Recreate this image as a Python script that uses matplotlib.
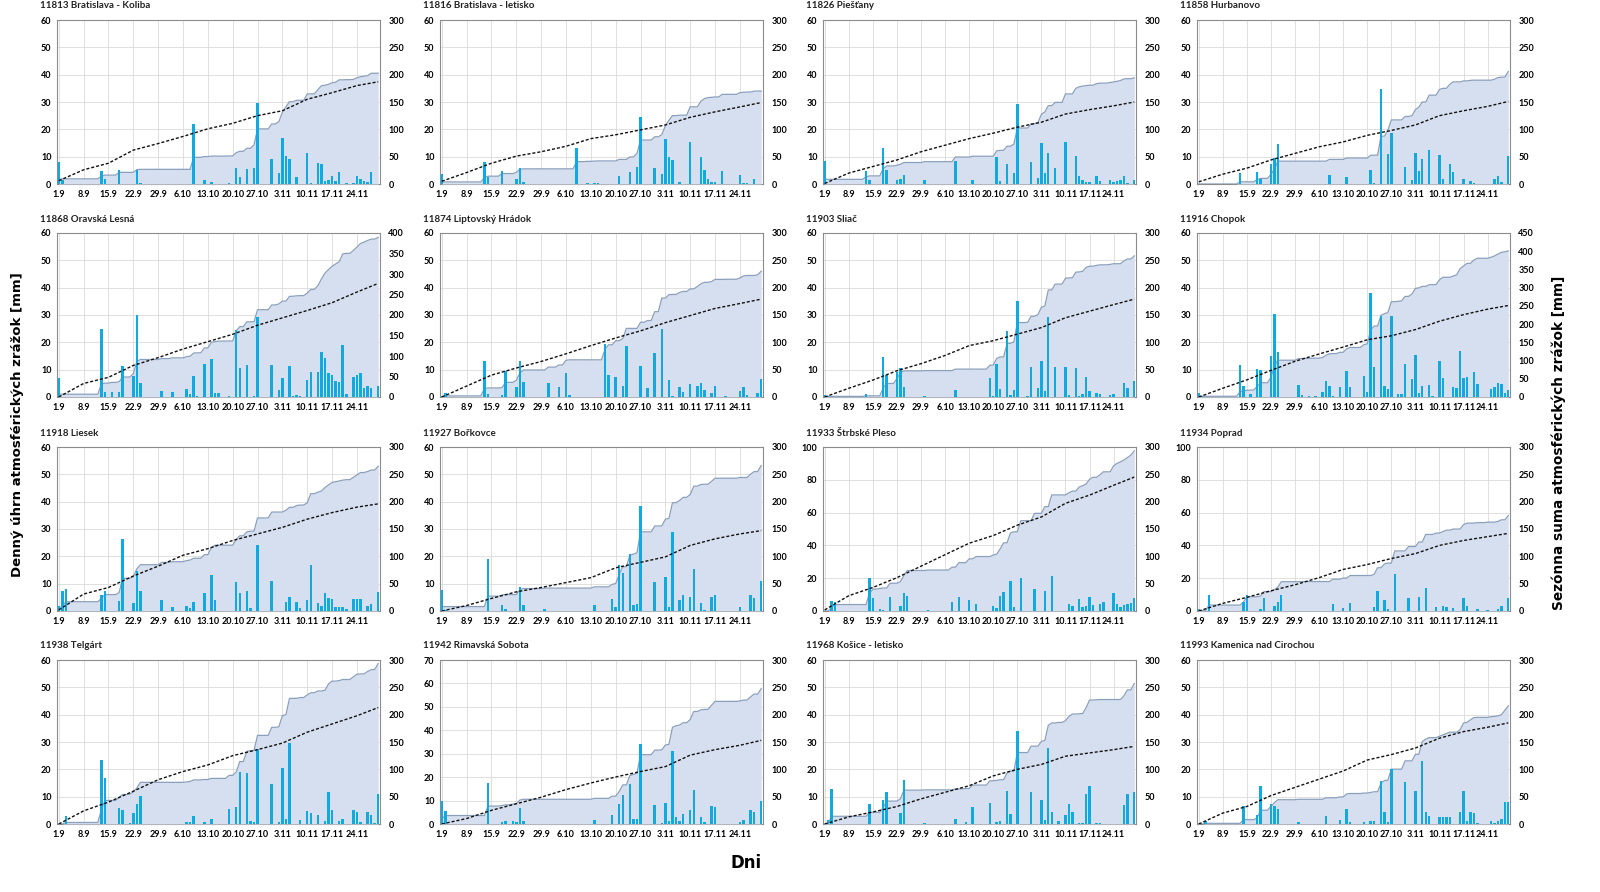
import matplotlib
matplotlib.use('Agg')
import matplotlib.pyplot as plt
import numpy as np

plt.rcParams['font.family'] = ['Lato', 'DejaVu Sans']

# x axis: 1.9. - 30.11., day index 0..90
n_days = 91
xtick_days = list(range(0, 85, 7))
xtick_labels = ['1.9', '8.9', '15.9', '22.9', '29.9', '6.10', '13.10', '20.10',
                '27.10', '3.11', '10.11', '17.11', '24.11']
norm_days = [0, 7, 14, 21, 28, 35, 42, 49, 56, 63, 70, 77, 84, 90]

titles = ['11813 Bratislava - Koliba', '11816 Bratislava - letisko', '11826 Piešťany', '11858 Hurbanovo',
          '11868 Oravská Lesná', '11874 Liptovský Hrádok', '11903 Sliač', '11916 Chopok',
          '11918 Liesek', '11927 Bořkovce', '11933 Štrbské Pleso', '11934 Poprad',
          '11938 Telgárt', '11942 Rimavská Sobota', '11968 Košice - letisko', '11993 Kamenica nad Cirochou']

left_max = [60, 60, 60, 60, 60, 60, 60, 60, 60, 60, 100, 100, 60, 70, 60, 60]
left_step = [10, 10, 10, 10, 10, 10, 10, 10, 10, 10, 20, 20, 10, 10, 10, 10]
right_max = [300, 300, 300, 300, 400, 300, 300, 450, 300, 300, 300, 300, 300, 300, 300, 300]

# daily precipitation [mm], day index -> value
rain_11813 = {0: 8.0, 1: 1.5, 12: 4.8, 13: 2.0, 17: 5.0, 22: 5.0, 23: 0.5, 38: 22.0, 41: 1.4, 43: 0.8,
              48: 0.3, 50: 6.0, 51: 2.5, 53: 5.5, 55: 6.0, 56: 29.5, 60: 9.0, 62: 4.2, 63: 17.0, 64: 10.3,
              65: 9.3, 67: 2.5, 70: 11.5, 71: 0.3, 73: 7.7, 74: 7.2, 75: 1.0, 76: 1.5, 77: 2.9, 78: 1.0,
              79: 4.3, 81: 0.3, 83: 0.5, 84: 3.0, 85: 1.8, 86: 1.2, 87: 0.8, 88: 4.5}
rain_11816 = {0: 3.8, 12: 8.0, 13: 2.5, 17: 4.8, 21: 2.0, 22: 5.8, 23: 0.8, 38: 13.2, 41: 0.5, 43: 0.5,
              44: 0.3, 50: 2.8, 53: 4.5, 55: 6.3, 56: 24.6, 60: 6.0, 62: 3.8, 63: 16.5, 64: 9.8, 65: 8.6,
              67: 0.8, 70: 15.3, 73: 10.0, 74: 5.0, 75: 1.8, 76: 0.6, 77: 0.6, 79: 4.8, 84: 3.2, 85: 0.5,
              86: 0.5, 88: 1.7}
rain_11826 = {0: 8.5, 12: 4.8, 13: 1.5, 17: 13.0, 18: 5.2, 21: 1.3, 22: 1.8, 23: 3.2, 29: 1.5, 38: 8.5,
              43: 1.5, 50: 9.8, 51: 1.0, 53: 7.5, 55: 4.0, 56: 29.3, 60: 8.0, 62: 2.2, 63: 15.0, 64: 4.2,
              65: 11.5, 67: 6.0, 70: 15.5, 73: 10.2, 74: 2.8, 75: 1.3, 76: 0.8, 77: 0.8, 79: 2.8, 80: 1.0,
              83: 1.3, 84: 0.8, 85: 1.2, 86: 1.5, 87: 2.8, 88: 0.5, 90: 1.5}
rain_11858 = {12: 4.0, 17: 4.3, 18: 2.0, 21: 7.3, 22: 9.5, 23: 14.7, 38: 3.2, 43: 2.5, 50: 5.0, 51: 0.3,
              53: 34.7, 55: 11.0, 56: 18.7, 60: 6.3, 62: 1.3, 63: 11.2, 64: 4.7, 65: 9.3, 67: 12.5,
              70: 10.5, 71: 2.0, 73: 7.3, 74: 4.5, 77: 1.8, 79: 1.0, 80: 0.3, 86: 1.8, 87: 3.0, 88: 0.8,
              90: 10.3}
rain_11868 = {0: 6.8, 12: 25.0, 13: 2.0, 15: 1.8, 17: 1.8, 18: 11.3, 21: 7.8, 22: 30.0, 23: 5.0, 29: 2.2,
              32: 1.8, 36: 2.8, 37: 1.2, 38: 7.7, 39: 0.5, 41: 12.0, 43: 14.0, 44: 1.3, 45: 1.3, 48: 0.3,
              50: 24.5, 51: 10.5, 53: 11.7, 55: 0.3, 56: 29.3, 60: 11.6, 62: 2.4, 63: 7.0, 65: 11.5,
              66: 0.5, 67: 0.8, 68: 0.5, 70: 6.2, 71: 9.0, 73: 9.0, 74: 16.5, 75: 14.2, 76: 8.7, 77: 8.0,
              78: 5.7, 79: 5.4, 80: 19.2, 81: 1.2, 83: 7.2, 84: 8.2, 85: 8.7, 86: 3.3, 87: 4.0, 88: 3.4,
              90: 4.2}
rain_11874 = {0: 0.5, 1: 1.5, 12: 13.3, 13: 1.2, 17: 0.8, 18: 9.5, 21: 3.8, 22: 13.3, 23: 5.5, 30: 5.3,
              33: 3.8, 35: 8.7, 36: 0.8, 46: 19.5, 47: 8.0, 49: 7.5, 51: 4.0, 52: 18.5, 56: 11.2, 58: 3.2,
              60: 16.2, 62: 24.8, 64: 6.2, 65: 0.5, 67: 3.7, 68: 1.8, 70: 4.7, 72: 4.2, 73: 5.1, 74: 2.7,
              76: 1.3, 77: 4.0, 80: 0.3, 84: 2.3, 85: 3.8, 86: 0.8, 89: 1.3, 90: 6.5}
rain_11903 = {0: 0.8, 1: 0.3, 12: 1.0, 17: 14.5, 18: 8.2, 21: 9.0, 22: 10.5, 23: 3.5, 29: 0.5, 38: 2.7,
              48: 7.0, 49: 0.5, 50: 12.0, 51: 2.8, 53: 24.2, 54: 0.8, 55: 2.5, 56: 35.3, 59: 0.5, 60: 11.0,
              62: 3.2, 63: 13.3, 64: 2.3, 65: 29.3, 67: 10.8, 70: 10.8, 71: 0.6, 73: 10.5, 74: 0.3,
              75: 1.2, 76: 7.2, 77: 2.1, 79: 1.5, 80: 1.1, 83: 0.8, 84: 1.2, 87: 5.2, 88: 3.4, 90: 5.7}
rain_11916 = {0: 1.5, 1: 0.5, 12: 11.8, 13: 4.2, 15: 1.0, 17: 10.3, 18: 9.8, 21: 15.0, 22: 30.5, 23: 16.3,
              29: 4.3, 30: 0.6, 32: 0.5, 34: 0.3, 36: 1.8, 37: 6.0, 38: 4.2, 39: 0.5, 41: 3.5, 43: 9.5,
              44: 3.8, 48: 7.7, 49: 2.0, 50: 38.0, 51: 11.0, 53: 29.8, 54: 4.2, 55: 3.0, 56: 29.8,
              58: 1.2, 59: 1.2, 60: 12.2, 62: 6.7, 63: 15.3, 64: 1.3, 65: 4.2, 67: 4.5, 68: 0.5,
              70: 13.2, 71: 6.8, 74: 3.5, 75: 3.3, 76: 17.0, 77: 7.0, 78: 7.4, 80: 9.2, 81: 4.8,
              85: 2.8, 86: 3.5, 87: 5.1, 88: 4.7, 89: 1.6, 90: 2.4}
rain_11918 = {0: 1.8, 1: 7.2, 2: 8.0, 12: 5.8, 13: 7.2, 17: 3.6, 18: 26.3, 21: 2.8, 22: 14.5, 23: 7.5,
              29: 4.2, 32: 1.3, 36: 2.0, 37: 1.0, 38: 3.3, 41: 6.5, 43: 13.2, 44: 4.2, 50: 10.7, 51: 6.5,
              53: 7.2, 54: 1.2, 56: 24.2, 60: 10.8, 64: 3.3, 65: 5.3, 67: 3.2, 68: 1.0, 70: 4.0, 71: 16.8,
              73: 2.8, 74: 2.0, 75: 6.5, 76: 4.8, 77: 4.5, 78: 1.3, 79: 1.3, 80: 1.6, 81: 0.8, 83: 4.3,
              84: 4.3, 85: 4.5, 87: 1.8, 88: 2.7, 90: 7.0}
rain_11927 = {0: 7.8, 1: 0.3, 13: 19.0, 17: 2.2, 18: 0.8, 22: 8.8, 23: 2.2, 29: 0.8, 43: 2.3, 48: 4.5,
              49: 1.5, 50: 16.8, 51: 14.0, 53: 20.8, 54: 2.2, 55: 2.5, 56: 38.3, 60: 10.7, 63: 12.5,
              64: 1.3, 65: 28.8, 67: 4.0, 68: 5.8, 70: 5.3, 71: 15.2, 73: 3.0, 74: 0.5, 76: 5.2, 77: 5.8,
              84: 1.3, 87: 6.0, 88: 4.8, 90: 11.0}
rain_11933 = {2: 6.4, 3: 5.4, 13: 20.0, 14: 8.2, 16: 1.2, 17: 0.8, 19: 8.8, 22: 2.8, 23: 11.2, 24: 9.3,
              30: 0.8, 37: 5.2, 39: 8.3, 42: 7.0, 44: 4.2, 49: 2.8, 50: 1.8, 51: 9.2, 52: 11.3, 54: 18.0,
              55: 2.2, 57: 20.3, 61: 13.5, 64: 12.3, 66: 21.3, 71: 4.0, 72: 3.0, 74: 7.5, 75: 2.5,
              76: 3.0, 77: 8.8, 78: 3.5, 80: 4.5, 81: 5.5, 84: 11.0, 85: 4.5, 86: 2.7, 87: 3.5, 88: 4.2,
              89: 4.7, 90: 7.8}
rain_11934 = {0: 1.0, 3: 9.8, 13: 5.5, 14: 9.8, 18: 1.5, 19: 8.0, 22: 3.0, 23: 5.2, 24: 9.8, 30: 0.3,
              39: 4.3, 42: 2.0, 44: 4.7, 51: 2.2, 52: 12.0, 54: 7.0, 55: 1.5, 57: 22.3, 61: 8.0, 64: 8.3,
              66: 13.8, 69: 2.5, 71: 2.8, 72: 2.6, 74: 2.0, 77: 8.0, 78: 2.8, 81: 1.0, 84: 0.8, 87: 1.3,
              88: 3.0, 90: 7.8}
rain_11938 = {2: 2.8, 12: 23.3, 13: 17.0, 17: 5.7, 18: 5.2, 20: 0.5, 21: 4.2, 22: 7.2, 23: 10.3, 36: 0.8,
              37: 0.8, 38: 2.8, 41: 0.8, 43: 2.0, 48: 5.6, 50: 6.2, 51: 19.0, 53: 18.8, 54: 1.0, 55: 0.6,
              56: 27.5, 60: 14.8, 62: 0.8, 63: 20.5, 64: 1.8, 65: 29.8, 68: 1.5, 70: 4.8, 71: 4.0,
              73: 3.2, 75: 1.2, 76: 11.8, 77: 5.0, 79: 1.0, 80: 2.0, 83: 5.0, 84: 4.5, 85: 0.8, 87: 4.3,
              88: 3.3, 89: 0.5, 90: 10.8}
rain_11942 = {0: 9.8, 1: 5.7, 13: 17.3, 17: 1.0, 18: 1.3, 20: 1.3, 21: 0.8, 22: 6.7, 23: 1.3, 43: 1.7,
              48: 4.0, 50: 8.5, 51: 12.2, 53: 17.0, 54: 2.0, 55: 2.0, 56: 34.2, 60: 8.3, 62: 0.5, 63: 8.8,
              64: 1.3, 65: 31.2, 66: 2.8, 67: 1.3, 68: 4.3, 70: 5.8, 71: 14.7, 73: 3.0, 74: 0.8, 76: 7.5,
              77: 7.2, 84: 0.8, 85: 1.5, 87: 6.0, 88: 5.0, 90: 10.0}
rain_11968 = {1: 1.3, 2: 12.8, 13: 7.3, 17: 8.8, 18: 11.7, 22: 4.0, 23: 16.0, 29: 0.5, 38: 1.8, 41: 0.8,
              43: 6.2, 48: 7.8, 50: 0.8, 51: 1.2, 53: 12.2, 54: 3.5, 56: 34.0, 60: 11.7, 63: 8.8, 64: 1.5,
              65: 27.8, 66: 4.3, 68: 1.0, 70: 3.3, 71: 7.5, 72: 4.5, 74: 0.5, 75: 0.5, 76: 10.8, 77: 13.8,
              79: 0.5, 80: 0.5, 87: 6.8, 88: 10.8, 90: 11.7}
rain_11993 = {2: 1.2, 13: 6.7, 17: 3.3, 18: 14.0, 21: 7.2, 22: 6.5, 23: 5.5, 29: 0.8, 37: 2.8, 41: 1.5,
              43: 5.5, 44: 0.8, 48: 0.8, 50: 1.2, 51: 1.2, 53: 15.8, 54: 4.5, 55: 0.8, 56: 20.2, 60: 15.2,
              63: 12.0, 65: 23.2, 66: 4.5, 67: 2.8, 70: 2.5, 71: 2.5, 72: 2.5, 73: 2.5, 76: 4.5, 77: 12.2,
              78: 1.2, 79: 4.5, 80: 4.2, 81: 0.5, 85: 1.2, 86: 0.5, 87: 1.2, 88: 1.8, 89: 8.2, 90: 8.0}

# normal seasonal sum [mm] at norm_days
norm_11813 = [6, 26, 38, 62, 74, 87, 101, 111, 125, 134, 155, 167, 180, 187]
norm_11816 = [5, 21, 38, 51, 59, 69, 83, 90, 99, 108, 122, 132, 141, 149]
norm_11826 = [1, 20, 32, 44, 59, 71, 83, 93, 104, 113, 128, 136, 143, 150]
norm_11858 = [4, 18, 29, 44, 56, 68, 77, 89, 98, 108, 125, 134, 142, 151]
norm_11868 = [0, 33, 48, 77, 96, 117, 135, 153, 175, 193, 211, 230, 256, 277]
norm_11874 = [0, 20, 40, 53, 65, 79, 94, 108, 121, 136, 149, 162, 171, 179]
norm_11903 = [0, 16, 31, 48, 61, 76, 94, 103, 115, 127, 145, 157, 169, 179]
norm_11916 = [0, 24, 47, 73, 98, 118, 137, 157, 168, 185, 208, 226, 241, 251]
norm_11918 = [2, 31, 43, 64, 82, 102, 114, 129, 141, 153, 168, 180, 190, 196]
norm_11927 = [0, 10, 23, 35, 43, 52, 61, 79, 89, 99, 120, 132, 141, 147]
norm_11933 = [2, 28, 43, 61, 82, 103, 124, 138, 157, 172, 197, 212, 230, 245]
norm_11934 = [0, 14, 25, 37, 48, 61, 76, 85, 96, 105, 120, 129, 136, 142]
norm_11938 = [0, 24, 40, 60, 81, 96, 108, 125, 136, 148, 168, 183, 198, 213]
norm_11942 = [0, 10, 25, 37, 49, 63, 75, 86, 96, 105, 126, 136, 144, 153]
norm_11968 = [0, 13, 22, 32, 46, 58, 70, 88, 100, 109, 124, 130, 136, 142]
norm_11993 = [0, 20, 32, 52, 67, 82, 97, 117, 127, 139, 157, 169, 177, 185]

rains = [rain_11813, rain_11816, rain_11826, rain_11858, rain_11868, rain_11874, rain_11903, rain_11916,
         rain_11918, rain_11927, rain_11933, rain_11934, rain_11938, rain_11942, rain_11968, rain_11993]
norms = [norm_11813, norm_11816, norm_11826, norm_11858, norm_11868, norm_11874, norm_11903, norm_11916,
         norm_11918, norm_11927, norm_11933, norm_11934, norm_11938, norm_11942, norm_11968, norm_11993]

# layout in pixels
W, H = 1600, 892
col_left = [57, 440, 823, 1197]
col_width = [323, 323, 313, 313]
row_top = [20, 233, 447, 660]
ax_h = 164

bar_color = '#12A9E0'
fill_color = '#D6DFEF'
edge_color = '#8A9FBC'
grid_color = '#DADADA'
spine_color = '#8C8C8C'
tick_fs = 6.5

fig = plt.figure(figsize=(W / 100, H / 100), dpi=100)

days = np.arange(n_days)

for i in range(16):
    r, c = divmod(i, 4)
    l, w, t = col_left[c], col_width[c], row_top[r]
    rect = [l / W, 1 - (t + ax_h) / H, w / W, ax_h / H]

    daily = np.zeros(n_days)
    for d, v in rains[i].items():
        daily[d] = v
    cum = np.cumsum(daily)

    # base axis: grid + left scale
    base = fig.add_axes(rect)
    base.set_xlim(-0.5, n_days - 0.5)
    base.set_ylim(0, left_max[i])
    base.set_yticks(np.arange(0, left_max[i] + 1, left_step[i]))
    base.set_xticks(xtick_days)
    base.set_xticklabels(xtick_labels)
    base.grid(True, color=grid_color, lw=0.6)
    base.tick_params(length=0, labelsize=tick_fs, pad=4)
    for lab in base.get_xticklabels() + base.get_yticklabels():
        lab.set_fontweight('bold')
    for s in base.spines.values():
        s.set_color(spine_color)
        s.set_linewidth(0.8)

    # seasonal sum (right scale)
    right = base.twinx()
    right.set_ylim(0, right_max[i])
    right.set_yticks(np.arange(0, right_max[i] + 1, 50))
    right.tick_params(length=0, labelsize=tick_fs, pad=6)
    for lab in right.get_yticklabels():
        lab.set_fontweight('bold')
    right.fill_between(days, cum, color=fill_color, lw=0)
    right.plot(days, cum, color=edge_color, lw=0.9)
    for s in right.spines.values():
        s.set_visible(False)

    # daily bars (left scale)
    bars = base.twinx()
    bars.set_ylim(0, left_max[i])
    bars.set_yticks([])
    bars.bar(days, daily, width=0.7, color=bar_color, lw=0)
    for s in bars.spines.values():
        s.set_visible(False)

    # normal (right scale)
    norm = base.twinx()
    norm.set_ylim(0, right_max[i])
    norm.set_yticks([])
    norm.plot(norm_days, norms[i], color='#111111', lw=1.0, ls=(0, (2.2, 1.4)))
    for s in norm.spines.values():
        s.set_visible(False)

    base.set_zorder(0)
    right.set_zorder(1)
    bars.set_zorder(2)
    norm.set_zorder(3)
    for a in (right, bars, norm):
        a.patch.set_visible(False)
    base.set_xlim(-0.5, n_days - 0.5)

    fig.text((l - 17) / W, 1 - (t - 14) / H, titles[i], fontsize=7, fontweight='bold',
             ha='left', va='center', color='#222222')

fig.text(0.011, 0.524, 'Denný úhrn atmosférických zrážok [mm]', rotation=90, fontsize=9.5,
         fontweight='bold', family='DejaVu Sans', ha='center', va='center')
fig.text(0.974, 0.504, 'Sezónna suma atmosférických zrážok [mm]', rotation=90, fontsize=9.8,
         fontweight='bold', family='DejaVu Sans', ha='center', va='center')
fig.text(0.466, 0.033, 'Dni', fontsize=12, fontweight='bold', family='DejaVu Sans',
         ha='center', va='center')

fig.savefig('out.png', dpi=100, facecolor='white')
